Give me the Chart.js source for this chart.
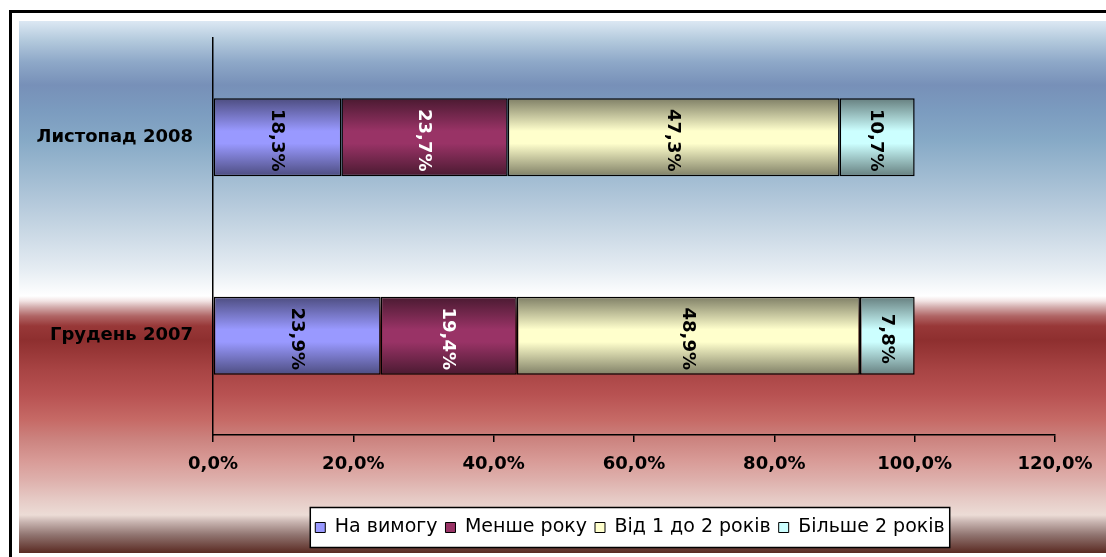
<!DOCTYPE html>
<html>
<head>
<meta charset="utf-8">
<script src="https://cdn.jsdelivr.net/npm/chart.js@4.4.1/dist/chart.umd.min.js"></script>
<style>
  html, body { margin: 0; padding: 0; background: #ffffff; }
  #wrap { position: relative; width: 1106px; height: 557px; }
</style>
</head>
<body>
<div id="wrap"><canvas id="chart" width="1106" height="557"></canvas></div>
<script>
// Deposit structure by term, share of total (%)
const categories = ['Листопад 2008', 'Грудень 2007'];
const seriesNames = ['На вимогу', 'Менше року', 'Від 1 до 2 років', 'Більше 2 років'];
const onDemand = [18.3, 23.9];
const underYear = [23.7, 19.4];
const oneToTwoYears = [47.3, 48.9];
const overTwoYears = [10.7, 7.8];
const xTicks = [0, 20, 40, 60, 80, 100, 120];

// Bar shading: dark edge colour, light centre colour, label colour
const barStyles = [
  { edge: '#4d4d80', mid: '#9999ff', label: '#000000' },
  { edge: '#4a1a31', mid: '#993366', label: '#ffffff' },
  { edge: '#7f7f66', mid: '#ffffcc', label: '#000000' },
  { edge: '#667f7f', mid: '#ccffff', label: '#000000' }
];
const BAR_FRACTION = 0.393;
const FONT = '"DejaVu Sans", Verdana, sans-serif';
const LEGEND_CENTER_X = 630;

const fmtPct = v => v.toFixed(1).replace('.', ',') + '%';

function barGradient(style) {
  return function (ctx) {
    const chart = ctx.chart;
    const ys = chart.scales && chart.scales.y;
    if (ctx.type !== 'data' || !chart.chartArea || !ys) return style.mid;
    const c = ys.getPixelForValue(ctx.dataIndex);
    const half = ys.height / categories.length * BAR_FRACTION / 2;
    if (!isFinite(c) || !isFinite(half)) return style.mid;
    const g = chart.ctx.createLinearGradient(0, c - half, 0, c + half);
    g.addColorStop(0, style.edge);
    g.addColorStop(0.42, style.mid);
    g.addColorStop(0.58, style.mid);
    g.addColorStop(1, style.edge);
    return g;
  };
}

const seriesValues = [onDemand, underYear, oneToTwoYears, overTwoYears];
const datasets = seriesValues.map((vals, i) => ({
  label: seriesNames[i],
  data: vals,
  backgroundColor: barGradient(barStyles[i]),
  borderColor: '#000000',
  borderWidth: 1.5,
  borderSkipped: false,
  categoryPercentage: 1,
  barPercentage: BAR_FRACTION
}));

// Frame, sky-to-sunset background and legend panel
const backdrop = {
  id: 'backdrop',
  afterLayout(chart) {
    // legend panel sits right of the chart's centre line
    const lg = chart.legend;
    if (!lg) return;
    const shift = LEGEND_CENTER_X - (lg.left + lg.right) / 2;
    lg.left += shift;
    lg.right += shift;
  },
  beforeDraw(chart) {
    const c = chart.ctx;
    const W = chart.width, H = chart.height;
    c.save();
    c.fillStyle = '#ffffff';
    c.fillRect(0, 0, W, H);
    c.fillStyle = '#000000';
    c.fillRect(9, 10, W - 9, 3);
    c.fillRect(9, 10, 3, H - 10);
    const top = 21, bottom = 553;
    const g = c.createLinearGradient(0, top, 0, bottom);
    const stops = [
      [21, '#dce8f3'], [40, '#b4cadd'], [62, '#8ea8c8'], [85, '#7790b8'],
      [110, '#7b9bbf'], [140, '#86a9c6'], [180, '#a3bdd3'], [230, '#c8d7e4'],
      [270, '#e6edf3'], [296, '#ffffff'], [301, '#f2e4e4'], [307, '#d4aeae'],
      [316, '#b06666'], [326, '#983838'], [340, '#8e2f2f'], [370, '#a84444'],
      [395, '#b85252'], [420, '#c66a66'], [440, '#cc8480'], [460, '#d89a96'],
      [480, '#deb0ac'], [500, '#e6cbc6'], [515, '#ecdcd6'], [522, '#c8b4b0'],
      [535, '#907470'], [553, '#5a2a22']
    ];
    stops.forEach(([y, col]) => g.addColorStop((y - top) / (bottom - top), col));
    c.fillStyle = g;
    c.fillRect(19, top, W - 19, bottom - top);

    const lg = chart.legend;
    if (lg && lg.legendHitBoxes && lg.legendHitBoxes.length) {
      const hb = lg.legendHitBoxes;
      const left = Math.min(...hb.map(b => b.left)) - 5;
      const right = Math.max(...hb.map(b => b.left + b.width)) + 5;
      const mid = hb[0].top + hb[0].height / 2;
      c.fillStyle = '#ffffff';
      c.fillRect(left, mid - 20, right - left, 40);
      c.strokeStyle = '#000000';
      c.lineWidth = 1.5;
      c.strokeRect(left, mid - 20, right - left, 40);
    }
    c.restore();
  }
};

// Values written vertically inside each bar segment
const segmentLabels = {
  id: 'segmentLabels',
  afterDatasetsDraw(chart) {
    const c = chart.ctx;
    c.save();
    c.font = 'bold 18px ' + FONT;
    c.textAlign = 'center';
    c.textBaseline = 'middle';
    chart.data.datasets.forEach((ds, i) => {
      const meta = chart.getDatasetMeta(i);
      meta.data.forEach((el, j) => {
        const cx = (el.x + el.base) / 2;
        c.save();
        c.translate(cx, el.y);
        c.rotate(Math.PI / 2);
        c.fillStyle = barStyles[i].label;
        c.fillText(fmtPct(ds.data[j]), 3, 1);
        c.restore();
      });
    });
    c.restore();
  }
};

new Chart(document.getElementById('chart'), {
  type: 'bar',
  data: { labels: categories, datasets },
  plugins: [backdrop, segmentLabels],
  options: {
    indexAxis: 'y',
    responsive: false,
    animation: false,
    events: [],
    layout: { padding: { top: 38, left: 0, right: 51, bottom: 10 } },
    scales: {
      x: {
        stacked: true,
        min: 0,
        max: 120,
        afterFit: s => { s.height = 75; },
        afterBuildTicks: s => { s.ticks = xTicks.map(v => ({ value: v })); },
        grid: { display: true, drawOnChartArea: false, drawTicks: true, tickLength: 7, color: '#000000', lineWidth: 1.5 },
        border: { display: true, color: '#000000', width: 1.5 },
        ticks: {
          color: '#000000',
          padding: 12,
          maxRotation: 0,
          font: { family: FONT, size: 18, weight: 'bold' },
          callback: v => fmtPct(v)
        }
      },
      y: {
        stacked: true,
        afterFit: s => { s.width = 213; },
        grid: { display: false, drawTicks: false },
        border: { display: true, color: '#000000', width: 1.5 },
        ticks: {
          color: '#000000',
          padding: 20,
          font: { family: FONT, size: 18, weight: 'bold' }
        }
      }
    },
    plugins: {
      tooltip: { enabled: false },
      legend: {
        position: 'bottom',
        labels: {
          boxWidth: 10,
          boxHeight: 10,
          padding: 8,
          color: '#000000',
          font: { family: FONT, size: 19 },
          generateLabels: chart => chart.data.datasets.map((ds, i) => ({
            text: ds.label,
            fillStyle: barStyles[i].mid,
            strokeStyle: '#000000',
            lineWidth: 1,
            hidden: false,
            datasetIndex: i
          }))
        }
      }
    }
  }
});
</script>
</body>
</html>
